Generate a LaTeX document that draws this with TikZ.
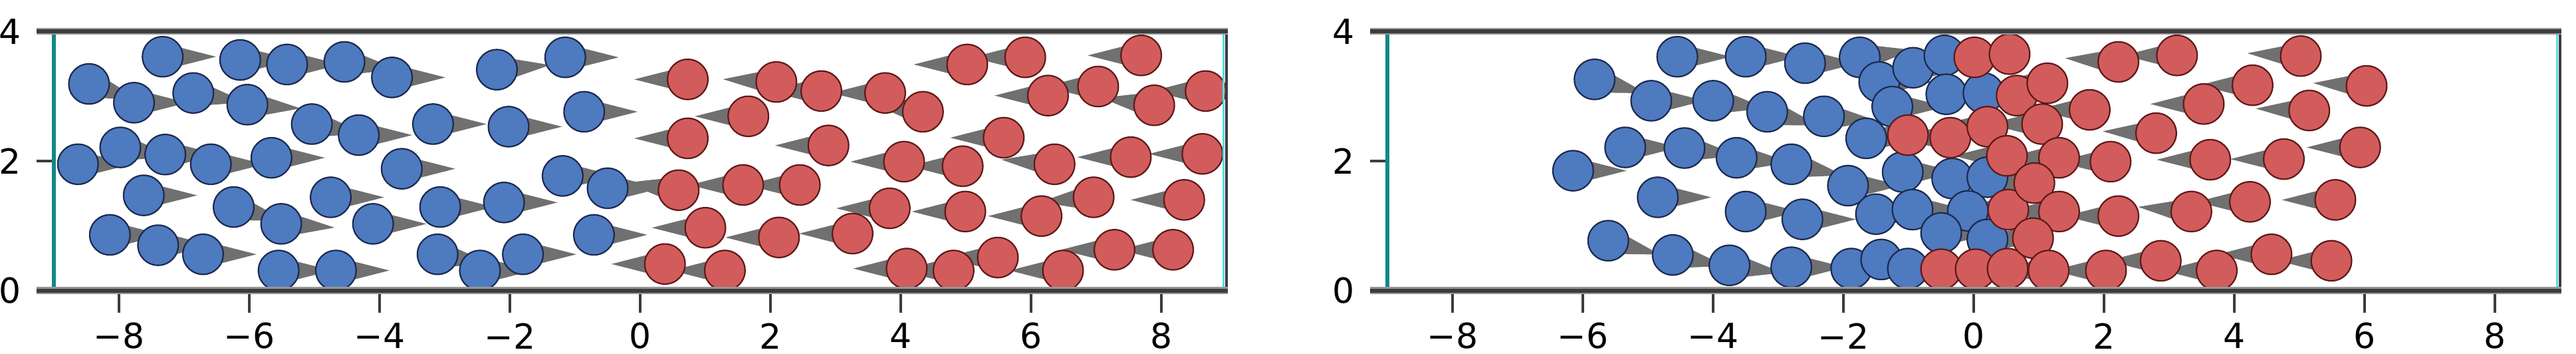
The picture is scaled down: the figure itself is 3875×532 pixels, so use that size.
\documentclass[tikz,border=0pt]{standalone}
\usepackage{fontspec}
\setmainfont{DejaVu Sans}
\definecolor{pblue}{RGB}{78,122,192}
\definecolor{pblueedge}{RGB}{28,42,78}
\definecolor{pred}{RGB}{210,92,92}
\definecolor{prededge}{RGB}{95,25,25}
\definecolor{trigray}{RGB}{112,112,112}
\definecolor{spinecol}{RGB}{60,60,60}
\definecolor{spinehalo}{RGB}{150,150,150}
\definecolor{wallteal}{RGB}{20,135,135}
\definecolor{wallcyan}{RGB}{90,220,228}
\tikzset{
  tri/.style={fill=trigray},
  bball/.style={fill=pblue, draw=pblueedge, line width=0.55pt},
  rball/.style={fill=pred, draw=prededge, line width=0.55pt},
  wallhalo/.style={draw=spinehalo, line width=2.6pt},
  wallcore/.style={draw=spinecol, line width=1.5pt},
  sidegray/.style={draw=spinecol, line width=1.2pt},
  sideteal/.style={draw=wallteal, line width=1.3pt},
  sidecyan/.style={draw=wallcyan, line width=0.8pt},
  tickmark/.style={draw=spinecol, line width=0.9pt},
  xlab/.style={inner sep=0pt, anchor=center, font=\fontsize{13}{15}\selectfont},
  ylab/.style={inner sep=0pt, anchor=east, font=\fontsize{13}{15}\selectfont},
}
\def\blueA{-7.33/3.61/0, -6.14/3.56/0, -5.42/3.49/0, -4.54/3.53/-8, -8.46/3.19/-18,
 -7.77/2.90/0, -6.86/3.05/-10, -6.03/2.87/-4, -5.04/2.57/-10, -4.32/2.40/0,
 -8.63/1.95/0, -7.98/2.21/-10, -7.29/2.10/0, -6.59/1.95/0, -5.66/2.05/0,
 -7.62/1.47/0, -6.24/1.29/-15, -5.51/1.03/-4, -4.75/1.44/0, -8.14/0.86/0,
 -7.40/0.70/0, -6.71/0.56/0, -5.55/0.31/0, -4.67/0.31/0, -3.81/3.29/0,
 -2.20/3.41/5, -1.15/3.60/0, -3.18/2.57/0, -2.02/2.53/0, -0.86/2.76/0,
 -3.66/1.88/0, -1.19/1.77/0, -0.50/1.58/0, -4.10/1.03/0, -3.07/1.29/0,
 -2.09/1.36/0, -0.71/0.86/0, -3.11/0.56/-10, -2.46/0.31/0, -1.80/0.56/0}
\def\redA{0.73/3.26/180, 2.09/3.22/177, 2.78/3.08/180, 3.76/3.05/180, 4.34/2.76/170,
 1.66/2.69/180, 0.73/2.35/180, 2.89/2.24/180, 4.05/1.99/180, 0.59/1.55/172,
 1.58/1.63/180, 2.45/1.63/180, 1.00/0.97/180, 2.13/0.82/180, 3.26/0.88/180,
 3.83/1.27/180, 0.38/0.41/180, 1.30/0.31/180, 4.09/0.34/180, 5.02/3.49/180,
 5.91/3.60/180, 7.69/3.63/180, 6.26/3.01/180, 7.03/3.15/180, 7.89/2.86/172,
 8.68/3.08/180, 5.58/2.36/180, 4.95/1.92/180, 6.36/1.95/175, 7.53/2.06/180,
 8.63/2.11/180, 4.99/1.22/180, 6.16/1.15/180, 6.96/1.44/185, 8.35/1.40/180,
 4.81/0.31/180, 5.49/0.51/180, 6.49/0.31/180, 7.28/0.63/180, 8.18/0.63/180}
\def\blueB{-4.55/3.61/0, -3.50/3.61/0, -5.82/3.26/-15, -4.95/2.93/0, -4.00/2.93/-8,
 -3.17/2.76/-15, -5.35/2.21/0, -4.44/2.20/-8, -3.64/2.05/-5, -2.80/1.95/-12,
 -6.15/1.85/0, -4.85/1.44/0, -3.50/1.22/0, -5.61/0.77/-15, -4.62/0.55/-12,
 -3.75/0.39/-8, -2.80/0.36/0, -2.59/3.51/0, -1.75/3.60/8, -1.45/3.22/0,
 -0.93/3.44/0, -0.45/3.63/0, -2.30/2.69/-5, -1.25/2.84/0, -0.42/3.03/0,
 0.15/3.05/0, -1.65/2.35/0, -1.93/1.62/0, -1.09/1.83/0, -0.33/1.73/0,
 0.21/1.75/0, -2.63/1.10/0, -1.50/1.18/0, -0.94/1.25/0, -0.09/1.23/0,
 -0.50/0.89/0, 0.21/0.79/0, -1.88/0.34/0, -1.42/0.48/0, -1.01/0.34/0}
\def\redB{0.01/3.60/180, 0.55/3.65/180, 0.66/3.01/180, -1.01/2.40/180, -0.36/2.36/180,
 0.21/2.53/180, 0.51/2.08/180, 0.53/1.25/180, -0.50/0.33/180, 0.03/0.33/180,
 0.52/0.34/180, 1.13/3.20/180, 1.78/2.79/180, 1.05/2.57/180, 1.31/2.05/180,
 2.10/1.99/180, 0.93/1.66/180, 1.31/1.22/180, 2.22/1.15/180, 3.34/1.22/175,
 0.91/0.81/180, 1.15/0.31/180, 2.03/0.31/180, 2.87/0.46/180, 3.73/0.31/180,
 2.22/3.53/176, 3.12/3.63/180, 3.53/2.88/180, 2.80/2.43/178, 3.63/2.02/180,
 4.24/1.37/180, 4.28/3.17/180, 5.02/3.62/177, 6.03/3.16/177, 5.15/2.78/178,
 4.76/2.03/180, 5.93/2.21/180, 5.55/1.40/180, 4.57/0.56/180, 5.49/0.46/180}
\newcommand\drawparticles[2]{%
  \foreach \px/\py/\pa in #1 {\fill[tri,shift={(\px,\py)},rotate=\pa] (0,0.21) -- (0.82,0) -- (0,-0.21) -- cycle;}
  \foreach \px/\py/\pa in #2 {\fill[tri,shift={(\px,\py)},rotate=\pa] (0,0.21) -- (0.82,0) -- (0,-0.21) -- cycle;}
  \foreach \px/\py/\pa in #1 {\path[bball] (\px,\py) circle (0.31);}
  \foreach \px/\py/\pa in #2 {\path[rball] (\px,\py) circle (0.31);}
}
\newcommand\drawframe[1]{%
  \foreach \t/\l [count=\k] in {-8/−8,-6/−6,-4/−4,-2/−2,0/0,2/2,4/4,6/6,8/8} {
    \draw[tickmark] (\t,0) -- (\t,-0.34);
    \node[xlab] (xl#1\k) at (\t,-0.70) {\l};
  }
  \foreach \t [count=\k] in {0,2,4} {
    \draw[tickmark] (-9,\t) -- (-9.27,\t);
    \node[ylab] (yl#1\k) at (-9.50,\t) {\t};
  }
  \draw[sidegray] (9,0) -- (9,4);
  \draw[sidecyan] (8.955,0) -- (8.955,4);
  \draw[sideteal] (-9,0) -- (-9,4);
  \draw[wallhalo] (-9.27,4) -- (9.02,4);
  \draw[wallhalo] (-9.27,0) -- (9.02,0);
  \draw[wallcore] (-9.27,4) -- (9.02,4);
  \draw[wallcore] (-9.27,0) -- (9.02,0);
}
\begin{document}
\begin{tikzpicture}[x=0.25pt,y=-0.25pt]
\useasboundingbox (0,0) rectangle (3875,532);
\fill[white] (0,0) rectangle (3875,532);
\begin{scope}[shift={(963,436.7)},x=24.5pt,y=24.34pt]
  \begin{scope}
    \clip (-9,0) rectangle (9,4);
    \drawparticles{\blueA}{\redA}
  \end{scope}
  \drawframe{a}
\end{scope}
\begin{scope}[shift={(2969,436.7)},x=24.5pt,y=24.34pt]
  \begin{scope}
    \clip (-9,0) rectangle (9,4);
    \drawparticles{\blueB}{\redB}
  \end{scope}
  \drawframe{b}
\end{scope}
\end{tikzpicture}
\end{document}
